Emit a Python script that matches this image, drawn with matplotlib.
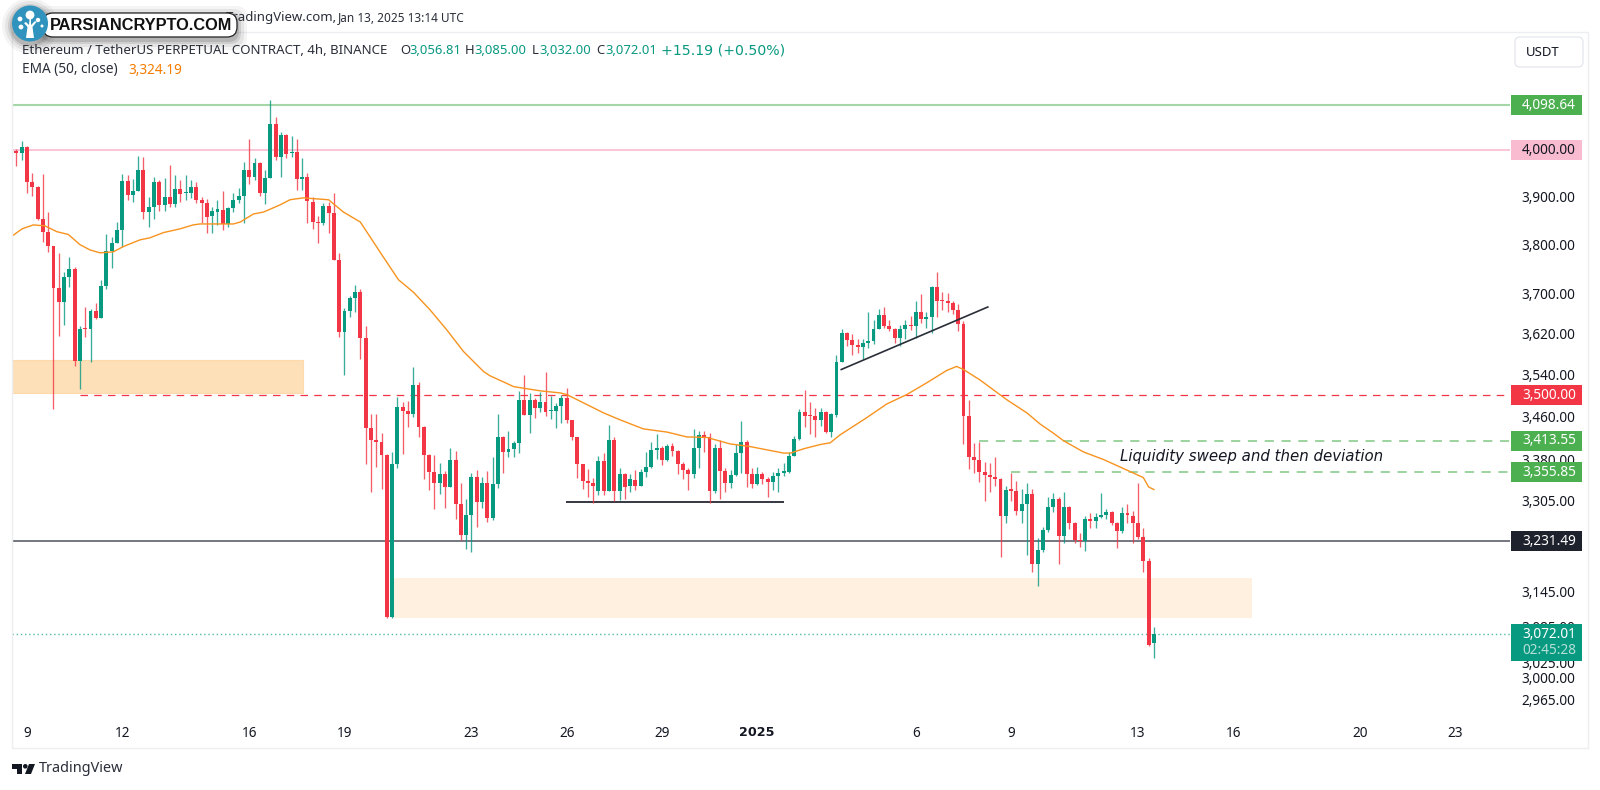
import numpy as np
import matplotlib
matplotlib.use("Agg")
import matplotlib.pyplot as plt
from matplotlib.patches import Rectangle, Circle, FancyBboxPatch, Polygon

plt.rcParams['font.family'] = ['Noto Sans', 'DejaVu Sans']

# 4h candles, first one is 3 bars before Dec 9 00:00
first_bar = -3
opens = [
    3996,3998,3994,4006,3931,3920,3852,3826,3797,3711,
    3682,3733,3749,3566,3631,3629,3664,3650,3715,3786,
    3803,3830,3933,3903,3912,3957,3867,3878,3931,3882,
    3899,3884,3916,3907,3907,3920,3893,3887,3858,3867,
    3871,3842,3875,3893,3901,3957,3942,3972,3907,3940,
    4057,3985,4033,3994,3996,3937,3942,3889,3846,3844,
    3880,3865,3768,3623,3664,3690,3703,3611,3438,3416,
    3412,3388,3101,3371,3478,3470,3464,3520,3440,3388,
    3357,3337,3353,3329,3379,3298,3243,3278,3347,3301,
    3337,3273,3335,3420,3393,3399,3410,3491,3462,3491,
    3476,3487,3470,3470,3480,3495,3453,3420,3371,3340,
    3337,3322,3377,3322,3416,3322,3353,3331,3342,3331,
    3357,3366,3397,3401,3379,3405,3395,3371,3360,3353,
    3401,3425,3421,3322,3401,3358,3337,3351,3391,3412,
    3353,3335,3353,3344,3338,3349,3355,3357,3386,3418,
    3468,3462,3461,3453,3468,3431,3462,3563,3621,3607,
    3596,3592,3601,3605,3629,3656,3635,3629,3611,3629,
    3637,3635,3662,3648,3652,3713,3686,3684,3680,3666,
    3638,3461,3383,3379,3357,3351,3347,3344,3277,3326,
    3322,3285,3298,3316,3192,3217,3252,3292,3307,3241,
    3292,3265,3234,3232,3272,3268,3275,3278,3283,3265,
    3250,3282,3277,3265,3239,3197,3056.81,
]
closes = [
    3998,3994,4006,3931,3920,3852,3826,3797,3711,3682,
    3733,3749,3566,3629,3629,3664,3650,3715,3786,3803,
    3830,3933,3903,3912,3957,3867,3878,3931,3882,3899,
    3884,3916,3905,3910,3920,3893,3887,3856,3869,3873,
    3842,3875,3893,3901,3957,3942,3972,3907,3940,4057,
    3985,4033,3991,3996,3937,3942,3891,3846,3844,3880,
    3865,3768,3623,3664,3690,3703,3611,3438,3416,3412,
    3388,3101,3371,3478,3470,3464,3520,3440,3388,3357,
    3337,3353,3329,3379,3298,3243,3278,3347,3301,3337,
    3273,3335,3420,3393,3399,3410,3491,3462,3491,3476,
    3487,3468,3472,3480,3495,3453,3420,3371,3340,3337,
    3331,3377,3322,3416,3322,3353,3329,3344,3331,3357,
    3366,3397,3401,3379,3405,3395,3371,3360,3353,3401,
    3425,3421,3322,3401,3358,3337,3351,3391,3412,3353,
    3335,3353,3344,3338,3349,3355,3358,3386,3418,3468,
    3461,3461,3453,3468,3431,3464,3563,3621,3607,3596,
    3592,3601,3605,3629,3656,3635,3629,3611,3629,3637,
    3635,3662,3648,3652,3713,3684,3684,3680,3666,3638,
    3461,3383,3379,3357,3351,3347,3344,3277,3324,3322,
    3285,3298,3316,3192,3217,3252,3292,3307,3241,3292,
    3265,3234,3232,3272,3268,3275,3278,3283,3265,3250,
    3282,3278,3265,3239,3197,3055,3072.01,
]
highs = [
    4000,4002,4020,4009,3950,3922,3948,3867,3797,3782,
    3743,3774,3753,3635,3672,3668,3680,3727,3820,3815,
    3846,3948,3946,3937,3987,3985,3899,3942,3935,3940,
    3968,3946,3935,3946,3935,3931,3899,3895,3878,3893,
    3912,3878,3907,3918,3974,4024,3982,3974,3957,4111,
    4073,4040,4035,4031,4024,3982,3950,3899,3858,3887,
    3889,3907,3782,3670,3694,3717,3709,3635,3464,3464,
    3428,3390,3393,3497,3487,3489,3553,3525,3442,3390,
    3388,3373,3358,3401,3395,3337,3307,3355,3360,3347,
    3358,3383,3464,3423,3432,3414,3508,3539,3504,3495,
    3506,3545,3499,3485,3501,3514,3453,3421,3371,3362,
    3346,3386,3391,3444,3421,3364,3355,3353,3360,3362,
    3393,3412,3427,3405,3407,3410,3397,3375,3364,3436,
    3432,3432,3428,3407,3416,3364,3360,3408,3451,3416,
    3364,3366,3357,3347,3357,3364,3373,3393,3423,3474,
    3510,3487,3476,3476,3470,3466,3578,3629,3623,3619,
    3609,3609,3662,3646,3668,3672,3646,3631,3637,3646,
    3654,3684,3698,3662,3715,3743,3703,3701,3684,3678,
    3644,3491,3410,3412,3375,3373,3384,3346,3331,3355,
    3340,3326,3337,3326,3238,3257,3311,3318,3311,3320,
    3294,3266,3247,3277,3282,3282,3318,3289,3285,3266,
    3292,3298,3285,3337,3255,3203,3085,
]
lows = [
    3972,3966,3978,3908,3900,3850,3805,3784,3474,3615,
    3637,3713,3555,3512,3613,3563,3648,3650,3709,3751,
    3803,3795,3893,3889,3912,3852,3836,3852,3869,3869,
    3878,3878,3889,3893,3897,3887,3844,3824,3824,3840,
    3830,3836,3867,3887,3844,3927,3935,3901,3884,3940,
    3978,3942,3982,3985,3914,3914,3844,3832,3803,3840,
    3824,3768,3613,3539,3652,3662,3570,3371,3320,3366,
    3326,3099,3099,3364,3390,3440,3459,3421,3344,3324,
    3289,3317,3291,3329,3272,3234,3219,3213,3257,3291,
    3266,3270,3327,3355,3383,3383,3391,3462,3428,3457,
    3468,3461,3455,3438,3447,3447,3416,3346,3326,3311,
    3300,3315,3315,3322,3303,3305,3307,3320,3324,3331,
    3347,3364,3381,3369,3377,3386,3353,3344,3324,3346,
    3364,3393,3300,3318,3307,3320,3327,3349,3355,3329,
    3327,3333,3335,3311,3324,3320,3349,3355,3386,3416,
    3440,3427,3420,3442,3428,3421,3459,3563,3594,3578,
    3582,3570,3590,3598,3629,3631,3625,3601,3594,3609,
    3627,3611,3640,3631,3621,3652,3666,3662,3658,3625,
    3408,3362,3355,3338,3303,3320,3331,3204,3265,3303,
    3278,3265,3208,3179,3154,3213,3248,3283,3192,3229,
    3254,3229,3222,3215,3255,3255,3273,3272,3261,3220,
    3247,3265,3229,3236,3179,3053,3032,
]

# EMA 50 read at a number of bars
ema_bars = [-2.8,-0.9,1.2,3.4,5.6,7.8,10,11.9,13.8,16.3,18.2,21.4,23.2,25.8,29,31.4,32.7,
            39,40.3,42.8,44.7,47.8,49.7,52.2,57,59.8,63,66.7,70.2,73,76.2,79.3,82.5,86.3,
            87.5,92,97,100.8,102,105.2,109,112.1,116.5,121,124.7,128.5,132.9,136.7,143,144.3,
            146.8,150,151.8,153.7,158.7,162.5,166.3,170,173.8,175.7,177,180.1,185.2,189,191.5,
            194,195.9,199.7,203.5,208.5,211,212,213]
ema_vals = [3817,3832,3840,3838,3826,3820,3799,3788,3782,3784,3795,3809,3813,3824,3832,3840,3842,
            3842,3846,3863,3867,3882,3893,3897,3893,3867,3846,3784,3727,3702,3666,3627,3584,3545,
            3537,3516,3508,3504,3501,3485,3466,3453,3436,3430,3421,3420,3408,3403,3391,3391,
            3399,3407,3410,3425,3457,3483,3501,3523,3547,3555,3549,3529,3491,3466,3445,
            3428,3414,3393,3379,3357,3346,3329,3324.19]

price_ticks = [3900,3800,3700,3620,3540,3460,3380,3305,3145,3085,3025,3000,2965]
time_bars = [0,18,42,60,84,102,120,138,168,186,210,228,252,270]
time_labels = ['9','12','16','19','23','26','29','2025','6','9','13','16','20','23']

GREEN = '#089981'
RED = '#f23645'
DARK = '#131722'
W, H = 1600, 790

fig = plt.figure(figsize=(16, 7.9), dpi=100, facecolor='white')
ax = fig.add_axes([12/W, 1-722/H, (1510-12)/W, (722-32)/H])
ax.set_yscale('log')
ax.set_xlim(-2.84, 280.3)
ax.set_ylim(4000*np.exp(-572/1835), 4000*np.exp(118/1835))
for s in ax.spines.values():
    s.set_visible(False)

# zones
ax.add_patch(Rectangle((-3, 3504), 55.2, 3568-3504, fc='#fde0b8', ec='#fdd9ab', lw=0.8, zorder=1))
ax.add_patch(Rectangle((69.2, 3100), 162.4, 3168-3100, fc='#fff0df', ec='none', zorder=1))

# levels
ax.axhline(4098.64, color='#a5d6a7', lw=1.5, zorder=1)
ax.axhline(4000, color='#f8c6d8', lw=1.5, zorder=1)
ax.axhline(3231.49, color='#5d606b', lw=1.2, zorder=1.5)
ax.axhline(3072.01, color=GREEN, lw=1, ls=(0, (1, 2)), alpha=0.7, zorder=1)
ax.hlines(3500, 10, 280.3, color=RED, lw=0.9, ls=(0, (6, 5)), zorder=1.5)
ax.hlines(3413.55, 180, 280.3, color='#81c784', lw=1.1, ls=(0, (6, 5)), zorder=1.5)
ax.hlines(3355.85, 186, 280.3, color='#81c784', lw=1.1, ls=(0, (6, 5)), zorder=1.5)
ax.hlines(3301, 101.9, 143, color=DARK, lw=1.2, zorder=1.5)
ax.plot([153.9, 181.6], [3549, 3672], color='#2a2e39', lw=1.2, zorder=4)

# candles
bars = np.arange(first_bar, first_bar + len(opens))
opens_a, closes_a = np.array(opens), np.array(closes)
colors = [GREEN if c >= o else RED for o, c in zip(opens, closes)]
ax.vlines(bars, lows, highs, colors=colors, lw=0.95, alpha=0.8, zorder=2)
ax.bar(bars, np.maximum(np.abs(closes_a-opens_a), 1.5), bottom=np.minimum(opens_a, closes_a),
       width=0.74, color=colors, linewidth=0, zorder=3)

ax.plot(ema_bars, ema_vals, color='#f7931e', lw=1.0, zorder=5)
ax.text(206.6, 3384, 'Liquidity sweep and then deviation', style='italic', family='DejaVu Sans',
        fontsize=10.8, color=DARK, va='center', ha='left', zorder=6)

ax.yaxis.tick_right()
ax.set_yticks(price_ticks)
ax.set_yticklabels([f'{p:,.2f}' for p in price_ticks])
ax.minorticks_off()
ax.set_xticks(time_bars)
ax.set_xticklabels(time_labels)
ax.tick_params(axis='y', length=0, pad=8.5, labelsize=9.8, labelcolor=DARK)
ax.tick_params(axis='x', length=0, pad=3.2, labelsize=9.8, labelcolor=DARK)
for lab in ax.get_xticklabels():
    if lab.get_text() == '2025':
        lab.set_family('DejaVu Sans')
        lab.set_fontweight('bold')
        lab.set_fontsize(9.2)

# everything around the plot, in pixels
ov = fig.add_axes([0, 0, 1, 1])
ov.set_xlim(0, W)
ov.set_ylim(H, 0)
ov.axis('off')
ov.patch.set_alpha(0)

ov.plot([12, 1588, 1588, 12, 12], [32, 32, 748, 748, 32], color='#eceef2', lw=1)


def price_y(p):
    return H - ax.transData.transform((0, p))[1]


def price_tag(price, bg, fg):
    y = price_y(price)
    ov.add_patch(Rectangle((1511, y-10), 71, 20, fc=bg, ec='none'))
    ov.text(1576, y, f'{price:,.2f}', color=fg, fontsize=9.8, ha='right', va='center')


price_tag(4098.64, '#4caf50', 'white')
price_tag(4000.00, '#f8bbd0', DARK)
price_tag(3500.00, RED, 'white')
price_tag(3413.55, '#4caf50', 'white')
price_tag(3355.85, '#4caf50', 'white')
price_tag(3231.49, '#1e222d', 'white')
y_last = price_y(3072.01)
ov.add_patch(Rectangle((1511, y_last-10), 71, 37, fc=GREEN, ec='none'))
ov.text(1576, y_last, '3,072.01', color='white', fontsize=9.8, ha='right', va='center')
ov.text(1576, y_last+16.5, '02:45:28', color='#b5e0d6', fontsize=9.8, ha='right', va='center')

ov.add_patch(FancyBboxPatch((1517, 39), 64, 26, boxstyle='round,pad=2,rounding_size=5', fc='white', ec='#e0e3eb', lw=0.8))
ov.text(1526, 52, 'USDT', color=DARK, fontsize=9.5, va='center')

# header
ov.text(226, 18, 'TradingView.com,', color='#2a2e39', fontsize=9.5, va='center')
ov.text(338, 18, 'Jan 13, 2025 13:14 UTC', color='#2a2e39', fontsize=8.5, va='center')
ov.text(22, 50, 'Ethereum / TetherUS PERPETUAL CONTRACT, 4h, BINANCE', color='#2a2e39', fontsize=9.55, va='center')
for x, key, val in [(400, 'O', '3,056.81'), (465, 'H', '3,085.00'), (532, 'L', '3,032.00'), (596, 'C', '3,072.01')]:
    ov.text(x, 50, key, color='#2a2e39', fontsize=9.4, va='center')
    ov.text(x + (7 if key == 'L' else 9.5), 50, val, color=GREEN, fontsize=9.4, va='center')
ov.text(661, 50, '+15.19 (+0.50%)', color=GREEN, fontsize=10.2, family='DejaVu Sans', va='center')
ov.text(22, 70, 'EMA (50, close)', color='#2a2e39', fontsize=9.8, va='center')
ov.text(128, 70, '3,324.19', color='#f57c00', fontsize=9.8, va='center')

# watermark pill
for grow, a in [(10, 0.05), (7, 0.08), (4, 0.12), (2, 0.16)]:
    ov.add_patch(FancyBboxPatch((45-grow, 15-grow+3), 190+2*grow, 20+2*grow, boxstyle='round,pad=2,rounding_size=11',
                                fc='#333333', ec='none', alpha=a, zorder=8))
    ov.add_patch(Circle((30, 26), 18+grow, fc='#333333', ec='none', alpha=a, zorder=8))
ov.add_patch(FancyBboxPatch((45, 15), 190, 20, boxstyle='round,pad=2,rounding_size=10', fc='white', ec='#222222', lw=0.9, zorder=9))
ov.text(50, 25.5, 'PARSIANCRYPTO.COM', color='#111111', family='Liberation Sans', fontsize=11.8, fontweight='bold', va='center', zorder=10)
ov.add_patch(Circle((30, 23.5), 18, fc='#2f93bd', ec='none', zorder=11))
ov.add_patch(Polygon([(26, 38), (27.5, 27), (24, 23), (26, 22), (29, 25), (29.5, 19), (31, 19), (31, 25), (35, 21), (36.5, 22), (32.5, 27), (34, 38)],
                     fc='white', ec='none', zorder=12))
for cx, cy, r in [(30, 15, 4.4), (21, 27, 2.4), (20, 19, 2.4), (38, 20, 2.2), (42, 26, 1.5)]:
    ov.add_patch(Circle((cx, cy), r, fc='white', ec='none', zorder=12))

# footer logo
ov.add_patch(Polygon([(12, 764), (22, 764), (22, 774), (17, 774), (17, 769), (12, 769)], fc='#131722', ec='none'))
ov.add_patch(Circle((25.3, 766.3), 2.3, fc='#131722', ec='none'))
ov.add_patch(Polygon([(29, 764), (35, 764), (31, 774), (25, 774)], fc='#131722', ec='none'))
ov.text(39, 769, 'TradingView', color='#2a2e39', fontsize=10.4, va='center')

fig.savefig('out.png', dpi=100)
